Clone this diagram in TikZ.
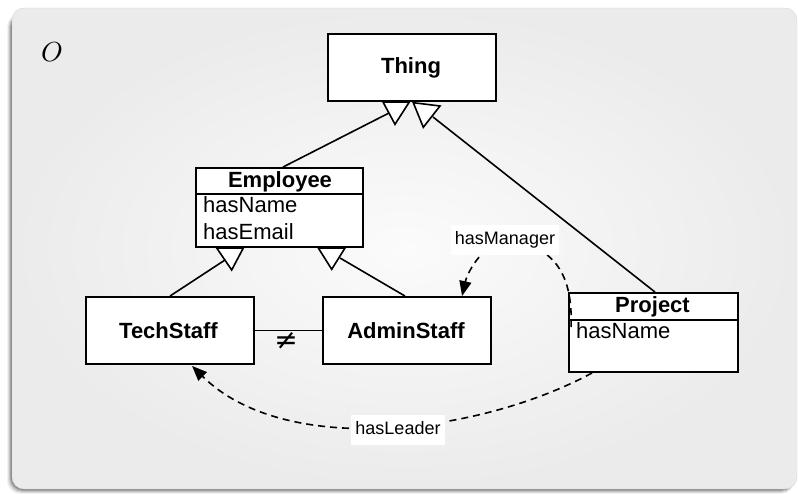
\documentclass[tikz,border=0pt]{standalone}
\usepackage{fontspec}
\setmainfont{Liberation Sans}
\newfontfamily\symfont{DejaVu Sans}
\usetikzlibrary{arrows.meta,calc}
\definecolor{panelmid}{HTML}{FBFBFB}
\definecolor{paneledge}{HTML}{EBEBEB}
\definecolor{panelline}{HTML}{D8D8D8}
\begin{document}
\begin{tikzpicture}[x=1pt,y=-1pt,
  cls/.style={draw=black,line width=1.9pt,fill=white,inner sep=0pt,
    minimum width=168pt,minimum height=67pt},
  bold/.style={font=\fontsize{22}{24}\selectfont\bfseries,inner sep=0pt},
  attr/.style={font=\fontsize{22}{24}\selectfont,inner sep=0pt,anchor=base west},
  isa/.style={line width=1.6pt},
  hollow/.style={draw=black,line width=1.6pt,fill=white,line join=miter},
  rel/.style={line width=1.6pt,dash pattern=on 7pt off 5pt},
  tip/.style={-{Triangle[length=15pt,width=12pt]}},
  rellabel/.style={fill=white,font=\fontsize{18}{20}\selectfont,
    text height=13pt,text depth=4pt,inner xsep=4pt,inner ysep=6.5pt}
]
\useasboundingbox (0,0) rectangle (798,494);

% drop shadow and panel
\foreach \o/\op in {5/0.05,4/0.08,3/0.12,2/0.16,1/0.2}
  \fill[black,opacity=\op,rounded corners=13pt] (12-\o,14) rectangle (794,489+\o);
\shade[rounded corners=12pt,inner color=panelmid,outer color=paneledge]
  (12,8) rectangle (797,489);
\draw[panelline,line width=0.4pt,rounded corners=12pt] (12,8) rectangle (797,489);

\node[scale=2.75,inner sep=0pt] (onto) at (52,52) {$O$};

% classes
\node[cls,bold] (thing) at (412,67.5) {};
\node[bold,anchor=base] (thingT) at (411,74) {Thing};

\node[cls,minimum width=167pt,minimum height=79pt] (emp) at (279.5,207.5) {};
\coordinate (empdiv) at (0,194);
\draw[line width=1.9pt] (emp.west |- empdiv) -- (emp.east |- empdiv);
\node[bold,anchor=base] (empT) at (280,188) {Employee};
\node[attr] (empA) at (203,213) {hasName};
\node[attr] (empB) at (203,240) {hasEmail};

\node[cls] (tech) at (170,330.5) {};
\node[bold,anchor=base] (techT) at (168.5,338) {TechStaff};

\node[cls] (admin) at (407,330.5) {};
\node[bold,anchor=base] (adminT) at (406,338) {AdminStaff};

\node[cls,minimum width=169pt,minimum height=79pt] (proj) at (653.5,332.5) {};
\coordinate (projdiv) at (0,320);
\draw[line width=1.9pt] (proj.west |- projdiv) -- (proj.east |- projdiv);
\node[bold,anchor=base] (projT) at (652.5,313) {Project};
\node[attr] (projA) at (576,339) {hasName};

% subclass links with hollow heads
\coordinate (g1) at (389,113);
\coordinate (g2) at (433,117);
\coordinate (g3) at (225,260);
\coordinate (g4) at (340,258);
\draw[isa] ($(emp.north)+(3.5,0)$) -- (g1);
\draw[isa] ($(proj.north)+(1.5,0)$) -- (g2);
\draw[isa] (tech.north) -- (g3);
\draw[isa] ($(admin.north)+(-2,0)$) -- (g4);
\filldraw[hollow] (383,102) -- (409.3,102) -- (395,124.3) -- cycle;
\filldraw[hollow] (413.3,102.7) -- (440,106) -- (423.3,127.3) -- cycle;
\filldraw[hollow] (216.7,248) -- (243.3,248) -- (231.7,270) -- cycle;
\filldraw[hollow] (318.3,248) -- (345,248) -- (331.7,269.3) -- cycle;

% disjointness
\draw[isa] (tech.east) -- (admin.west);
\node[font=\symfont\fontsize{28}{30}\selectfont,inner sep=0pt] (neq) at (286,341) {≠};

% object properties
\coordinate (mgrpos) at (505,240);
\coordinate (ldrpos) at (398,430);
\draw[rel,tip] ($(proj.north west)+(3,35)$)
  .. controls (573,275) and (555,245) .. (mgrpos)
  .. controls (485,243) and (468,270) .. ($(admin.north west)+(140,0)$);
\draw[rel,tip] ($(proj.south west)+(24,0)$)
  .. controls (479,434) and (285,458) .. ($(tech.south west)+(107,1)$);
\node[rellabel] (mgr) at (mgrpos) {hasManager};
\node[rellabel] (ldr) at (ldrpos) {hasLeader};
\end{tikzpicture}
\end{document}
